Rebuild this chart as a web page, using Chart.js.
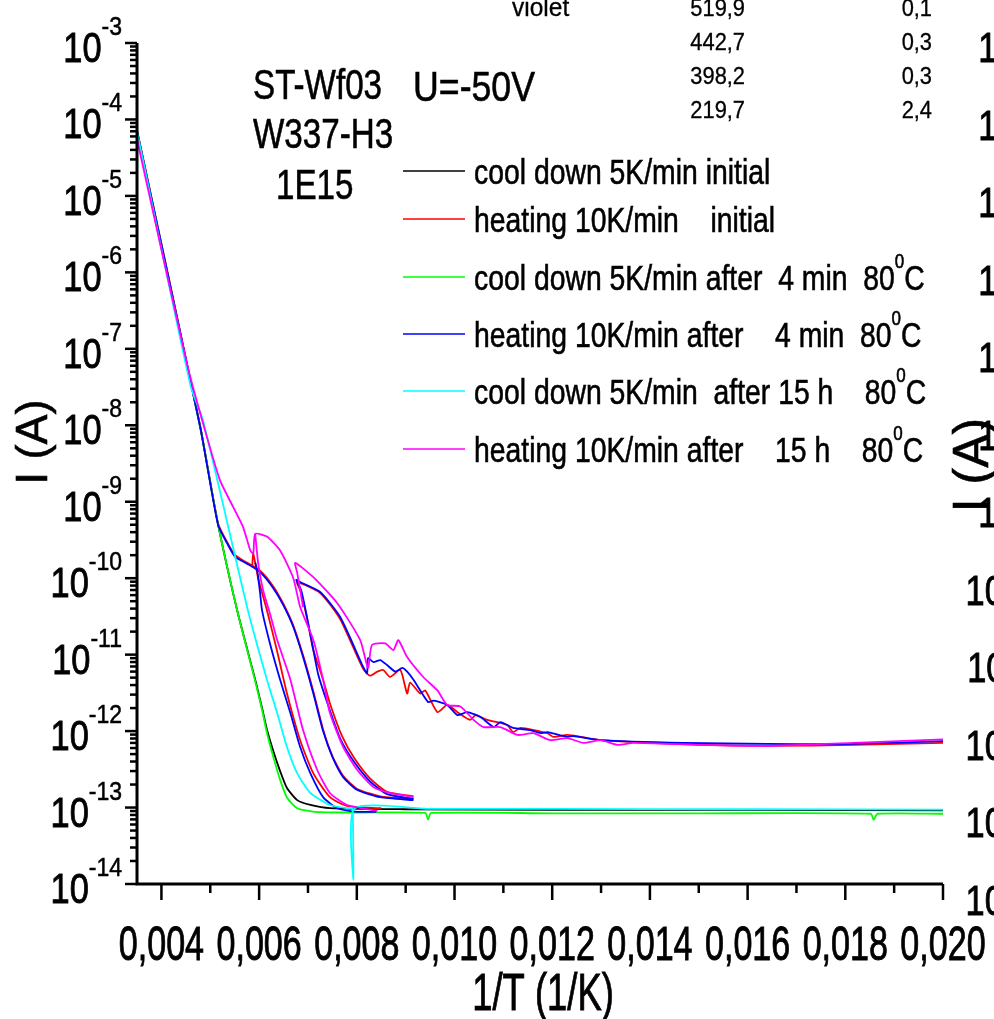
<!DOCTYPE html>
<html lang="en">
<head>
<meta charset="UTF-8">
<title>I vs 1/T</title>
<script src="https://cdn.jsdelivr.net/npm/chart.js"></script>
<style>
  html, body { margin: 0; padding: 0; background: #fff; }
  #plot { display: block; }
</style>
</head>
<body>
<canvas id="plot" width="994" height="1019"></canvas>
<script>
// 1/T in 1/K, current in A. A null entry breaks the line between two sweeps.

const coolInitialX = [0.00350, 0.00479, 0.00514, 0.00555, 0.00592, 0.00606, 0.00616, 0.00629, 0.00643, 0.00657, 0.00678, 0.00705, 0.00745, 0.0090, 0.0120, 0.0160, 0.0200];
const coolInitialI = [7.0e-5, 9.8e-9, 5.8e-10, 3.8e-11, 4.7e-12, 2.0e-12, 1.05e-12, 5.5e-13, 3.0e-13, 1.8e-13, 1.25e-13, 1.08e-13, 9.8e-14, 9.5e-14, 9.3e-14, 9.3e-14, 9.2e-14];

const heatInitialX = [
  0.00350, 0.00479, 0.00516, 0.00534, 0.00551, 0.00575, 0.00602, 0.00629, 0.00649, 0.00670, 0.00690, 0.00711, 0.00731, 0.00750, 0.00772, 0.00801, 0.00848, 0.00916,
  null,
  0.00586, 0.00588, 0.00598, 0.00616, 0.00637, 0.00657, 0.00684, 0.00711, 0.00745, 0.00780, 0.00850,
  null,
  0.00916, 0.00862, 0.00827, 0.00795, 0.00770, 0.00745, 0.00731, 0.00711, 0.00698, 0.00686, 0.00678, 0.00725, 0.00766, 0.00813, 0.00827, 0.00842, 0.00854, 0.00868, 0.00889, 0.00903, 0.00909, 0.00930, 0.00940, 0.00965, 0.00985, 0.01006, 0.01032, 0.01043, 0.01067, 0.01108, 0.01120, 0.01135, 0.01190, 0.01202, 0.01231, 0.01258, 0.01299, 0.01366, 0.01504, 0.01641, 0.01817, 0.0200
];
const heatInitialI = [
  7.3e-5, 1.0e-8, 5.2e-10, 3.0e-10, 2.0e-10, 1.6e-10, 1.25e-10, 7.8e-11, 4.7e-11, 2.4e-11, 9.8e-12, 3.3e-12, 1.05e-12, 4.7e-13, 2.6e-13, 1.75e-13, 1.4e-13, 1.3e-13,
  null,
  1.45e-10, 2.1e-10, 1.0e-10, 3.8e-11, 1.1e-11, 3.1e-12, 7.6e-13, 2.8e-13, 1.37e-13, 1.05e-13, 9.8e-14,
  null,
  1.4e-13, 1.6e-13, 2.4e-13, 4.4e-13, 8.5e-13, 2.3e-12, 4.7e-12, 1.15e-11, 3.0e-11, 6.5e-11, 8.8e-11, 6.4e-11, 2.9e-11, 6.5e-12, 5.3e-12, 6.0e-12, 6.3e-12, 5.1e-12, 6.3e-12, 3.1e-12, 4.3e-12, 3.1e-12, 3.4e-12, 1.77e-12, 2.2e-12, 1.77e-12, 1.40e-12, 1.62e-12, 1.40e-12, 1.2e-12, 9.7e-13, 1.1e-12, 9.4e-13, 8.4e-13, 8.9e-13, 8.4e-13, 7.6e-13, 7.2e-13, 6.6e-13, 6.4e-13, 6.6e-13, 7.0e-13
];

const cool4minX = [0.00350, 0.00479, 0.00514, 0.00555, 0.00592, 0.00606, 0.00616, 0.00629, 0.00643, 0.00657, 0.00678, 0.00713, 0.0080, 0.00940, 0.00946, 0.00952, 0.0120, 0.0150, 0.01852, 0.01858, 0.01866, 0.0200];
const cool4minI = [7.0e-5, 9.8e-9, 5.8e-10, 3.8e-11, 4.5e-12, 1.9e-12, 9.5e-13, 4.6e-13, 2.3e-13, 1.35e-13, 9.8e-14, 8.8e-14, 8.6e-14, 8.5e-14, 7.0e-14, 8.5e-14, 8.4e-14, 8.4e-14, 8.3e-14, 6.9e-14, 8.3e-14, 8.3e-14];

const heat4minX = [
  0.00350, 0.00479, 0.00516, 0.00534, 0.00551, 0.00575, 0.00602, 0.00629, 0.00649, 0.00670, 0.00690, 0.00711, 0.00731, 0.00750, 0.00772, 0.00801, 0.00848, 0.00916,
  null,
  0.00592, 0.00596, 0.00602, 0.00606, 0.00623, 0.00643, 0.00664, 0.00684, 0.00705, 0.00731, 0.00760, 0.00801, 0.00840,
  null,
  0.00916, 0.00862, 0.00827, 0.00795, 0.00766, 0.00739, 0.00721, 0.00711, 0.00698, 0.00686, 0.00676, 0.00684, 0.00725, 0.00766, 0.00813, 0.00821, 0.00823, 0.00834, 0.00848, 0.00862, 0.00879, 0.00893, 0.00903, 0.00916, 0.00946, 0.00957, 0.00985, 0.01006, 0.01026, 0.01053, 0.01080, 0.01094, 0.01120, 0.01155, 0.01176, 0.01190, 0.01231, 0.01243, 0.01299, 0.01469, 0.01641, 0.01817, 0.0200
];
const heat4minI = [
  7.1e-5, 9.8e-9, 4.95e-10, 2.9e-10, 1.9e-10, 1.55e-10, 1.2e-10, 7.4e-11, 4.5e-11, 2.3e-11, 9.3e-12, 3.1e-12, 1.0e-12, 4.6e-13, 2.5e-13, 1.7e-13, 1.37e-13, 1.25e-13,
  null,
  1.6e-10, 1.28e-10, 6.4e-11, 3.8e-11, 1.34e-11, 4.7e-12, 1.72e-12, 6.2e-13, 2.8e-13, 1.37e-13, 9.8e-14, 8.8e-14, 8.8e-14,
  null,
  1.3e-13, 1.5e-13, 2.2e-13, 3.9e-13, 8.0e-13, 2.4e-12, 5.5e-12, 1.15e-11, 3.1e-11, 7.0e-11, 9.5e-11, 8.9e-11, 6.6e-11, 3.1e-11, 6.9e-12, 5.7e-12, 9.0e-12, 8.0e-12, 8.5e-12, 7.3e-12, 6.0e-12, 6.7e-12, 6.0e-12, 4.7e-12, 2.4e-12, 2.5e-12, 2.2e-12, 1.62e-12, 1.77e-12, 1.53e-12, 1.13e-12, 1.31e-12, 1.1e-12, 1.03e-12, 9.4e-13, 9.7e-13, 8.4e-13, 8.6e-13, 7.6e-13, 7.0e-13, 6.8e-13, 6.8e-13, 7.4e-13
];

const cool15hX = [0.00350, 0.00460, 0.00485, 0.00577, 0.00616, 0.00637, 0.00657, 0.00678, 0.00705, 0.00745, 0.00780, 0.00791, 0.00793, 0.00795, 0.0095, 0.0120, 0.0160, 0.0200];
const cool15hI = [6.9e-5, 3.2e-8, 1.17e-8, 3.8e-11, 4.7e-12, 1.72e-12, 6.2e-13, 2.8e-13, 1.55e-13, 1.08e-13, 9.8e-14, 9.7e-14, 1.13e-14, 9.7e-14, 9.6e-14, 9.6e-14, 9.5e-14, 9.4e-14];

const heat15hX = [
  0.00350, 0.00453, 0.00489, 0.00520, 0.00547, 0.00567, 0.00582, 0.00588, 0.00592, 0.00616, 0.00643, 0.00670, 0.00684, 0.00711, 0.00731, 0.00745, 0.00772, 0.00801, 0.00834, 0.00868, 0.00916,
  null,
  0.00592, 0.00598, 0.00608, 0.00623, 0.00637, 0.00664, 0.00690, 0.00719, 0.00745, 0.00780, 0.00842,
  null,
  0.00690, 0.00678, 0.00674, 0.00711, 0.00760, 0.00807, 0.00823, 0.00831, 0.00858, 0.00875, 0.00885, 0.00903, 0.00936, 0.00965, 0.00985, 0.01012, 0.01039, 0.01059, 0.01094, 0.01129, 0.01161, 0.01196, 0.01231, 0.01264, 0.01299, 0.01334, 0.01366, 0.01504, 0.01641, 0.01817, 0.0200
];
const heat15hI = [
  5.5e-5, 6.1e-8, 8.7e-9, 1.9e-9, 8.5e-10, 4.7e-10, 2.3e-10, 2.1e-10, 3.8e-10, 3.5e-10, 2.3e-10, 1.0e-10, 4.2e-11, 1.55e-11, 4.7e-12, 1.72e-12, 6.2e-13, 3.1e-13, 1.85e-13, 1.55e-13, 1.37e-13,
  null,
  3.8e-10, 1.58e-10, 7.0e-11, 3.3e-11, 1.55e-11, 4.7e-12, 1.03e-12, 3.1e-13, 1.55e-13, 1.08e-13, 9.0e-14,
  null,
  4.2e-11, 1.17e-10, 1.58e-10, 1.03e-10, 4.7e-11, 1.55e-11, 6.7e-12, 1.34e-11, 1.4e-11, 1.15e-11, 1.55e-11, 9.3e-12, 5.1e-12, 3.4e-12, 2.2e-12, 2.1e-12, 1.40e-12, 1.13e-12, 1.13e-12, 8.9e-13, 9.4e-13, 7.6e-13, 8.1e-13, 7.0e-13, 7.6e-13, 6.6e-13, 7.0e-13, 6.6e-13, 6.4e-13, 7.0e-13, 7.8e-13
];

// legend text; ^...^ marks a superscript
const seriesLabels = [
  'cool down 5K/min initial',
  'heating 10K/min    initial',
  'cool down 5K/min after  4 min  80^0^C',
  'heating 10K/min after    4 min  80^0^C',
  'cool down 5K/min  after 15 h    80^0^C',
  'heating 10K/min after    15 h    80^0^C'
];

const sampleLines = ['ST-Wf03', 'W337-H3', '1E15'];
const biasLabel = 'U=-50V';
const tableNames = ['violet', '', '', ''];
const tableWavelengths = ['519,9', '442,7', '398,2', '219,7'];
const tablePowers = ['0,1', '0,3', '0,3', '2,4'];

const xMajorTicks = [0.004, 0.006, 0.008, 0.010, 0.012, 0.014, 0.016, 0.018, 0.020];
const xMinorTicks = [0.005, 0.007, 0.009, 0.011, 0.013, 0.015, 0.017, 0.019];
const yDecades = [-14, -13, -12, -11, -10, -9, -8, -7, -6, -5, -4, -3];

function toPoints(xs, vals) {
  return xs.map((x, k) => ({ x: x === null ? xs[k - 1] : x, y: vals[k] }));
}

const FONT = '"Liberation Sans", Arial, sans-serif';

// squeezed text, slightly emboldened with a thin outline
function drawText(ctx, str, x, y, size, align, squeeze, bold) {
  ctx.save();
  ctx.font = size + 'px ' + FONT;
  ctx.textAlign = 'left';
  ctx.textBaseline = 'alphabetic';
  const w = ctx.measureText(str).width * squeeze;
  const x0 = align === 'center' ? x - w / 2 : align === 'right' ? x - w : x;
  ctx.translate(x0, y);
  ctx.scale(squeeze, 1);
  ctx.fillText(str, 0, 0);
  if (bold) {
    ctx.lineWidth = bold;
    ctx.strokeStyle = ctx.fillStyle;
    ctx.strokeText(str, 0, 0);
  }
  ctx.restore();
  return w;
}

// text with ^superscript^ parts, left aligned
function drawRich(ctx, str, x, y, size, supSize, rise, squeeze, bold) {
  const parts = str.split('^');
  let cx = x;
  parts.forEach((p, k) => {
    if (!p) return;
    if (k % 2 === 1) cx += drawText(ctx, p, cx, y - rise, supSize, 'left', squeeze, bold);
    else cx += drawText(ctx, p, cx, y, size, 'left', squeeze, bold);
  });
}

function drawDecadeLabel(ctx, n, xRight, py) {
  const supW = drawText(ctx, String(n), xRight, py - 8, 25, 'right', 0.92, 0.5);
  drawText(ctx, '10', xRight - supW, py + 19, 43, 'right', 0.8, 0.9);
}

function tick(ctx, x1, y1, x2, y2) {
  ctx.beginPath();
  ctx.moveTo(x1, y1);
  ctx.lineTo(x2, y2);
  ctx.stroke();
}

const framePlugin = {
  id: 'frame',
  afterDraw(chart) {
    const { ctx, chartArea: a } = chart;
    const xs = chart.scales.x, ys = chart.scales.y;
    ctx.save();
    ctx.fillStyle = '#000';
    ctx.strokeStyle = '#000';
    ctx.lineCap = 'butt';

    // axis lines
    ctx.lineWidth = 3;
    ctx.beginPath();
    ctx.moveTo(a.left, a.top);
    ctx.lineTo(a.left, a.bottom);
    ctx.lineTo(a.right, a.bottom);
    ctx.stroke();

    // y ticks, outward, with 2..9 minor ticks
    yDecades.forEach(n => {
      const py = ys.getPixelForValue(Math.pow(10, n));
      ctx.lineWidth = 2.5;
      ctx.strokeStyle = '#000';
      tick(ctx, a.left - 12, py, a.left, py);
      if (n < -3) {
        for (let m = 2; m <= 9; m++) {
          const pm = ys.getPixelForValue(m * Math.pow(10, n));
          tick(ctx, a.left - 7, pm, a.left, pm);
        }
      }
      drawDecadeLabel(ctx, n, 122, py);
      // tick labels of the neighbouring panel, cut by the right edge
      drawDecadeLabel(ctx, n, 122 + 915, a.top + (py - a.top) * 1.014);
    });

    // x ticks
    ctx.lineWidth = 2.5;
    xMajorTicks.forEach(v => {
      const px = xs.getPixelForValue(v);
      tick(ctx, px, a.bottom, px, a.bottom + 16);
      drawText(ctx, v.toFixed(3).replace('.', ','), px, 960, 48, 'center', 0.71, 0.9);
    });
    xMinorTicks.forEach(v => {
      const px = xs.getPixelForValue(v);
      tick(ctx, px, a.bottom, px, a.bottom + 9);
    });

    // axis titles
    drawText(ctx, '1/T (1/K)', 543, 1010, 52, 'center', 0.7, 0.9);
    [[47, 442, 45], [988, 465, 50]].forEach(([bx, cy, size]) => {
      ctx.save();
      ctx.translate(bx, cy);
      ctx.rotate(-Math.PI / 2);
      drawText(ctx, 'I (A)', 0, 0, size, 'center', 1, 0.6);
      ctx.restore();
    });

    // sample notes
    drawText(ctx, sampleLines[0], 253, 99, 42, 'left', 0.79, 0.6);
    drawText(ctx, sampleLines[1], 253, 148, 42, 'left', 0.79, 0.6);
    drawText(ctx, sampleLines[2], 276, 199, 42, 'left', 0.79, 0.6);
    drawText(ctx, biasLabel, 413, 101, 42, 'left', 0.85, 0.6);

    // illumination table at the top
    for (let k = 0; k < tableWavelengths.length; k++) {
      const by = 16 + k * 34;
      if (tableNames[k]) drawText(ctx, tableNames[k], 512, by, 25, 'left', 0.98, 0.3);
      drawText(ctx, tableWavelengths[k], 745, by, 23, 'right', 0.95, 0.3);
      drawText(ctx, tablePowers[k], 932, by, 23, 'right', 0.95, 0.3);
    }

    // legend
    const rowY = [171, 219, 277, 334, 391, 449];
    chart.data.datasets.forEach((ds, k) => {
      ctx.strokeStyle = ds.borderColor;
      ctx.lineWidth = 1.6;
      tick(ctx, 403, rowY[k], 465, rowY[k]);
      ctx.fillStyle = '#000';
      drawRich(ctx, seriesLabels[k], 474, rowY[k] + 13, 35, 21, 22, 0.81, 0.6);
    });
    ctx.restore();
  }
};

const series = [
  [coolInitialX, coolInitialI, '#000000'],
  [heatInitialX, heatInitialI, '#ff0000'],
  [cool4minX, cool4minI, '#00ff00'],
  [heat4minX, heat4minI, '#0000ff'],
  [cool15hX, cool15hI, '#00ffff'],
  [heat15hX, heat15hI, '#ff00ff']
];

new Chart(document.getElementById('plot'), {
  type: 'line',
  data: {
    datasets: series.map(([xs, vals, color], k) => ({
      label: seriesLabels[k].replace(/\^/g, ''),
      data: toPoints(xs, vals),
      borderColor: color,
      backgroundColor: color,
      borderWidth: 1.8,
      pointRadius: 0,
      tension: 0.2,
      spanGaps: false,
      order: series.length - k
    }))
  },
  options: {
    responsive: false,
    animation: false,
    devicePixelRatio: 1,
    layout: { padding: { left: 137, right: 51, top: 43, bottom: 135 } },
    plugins: { legend: { display: false }, tooltip: { enabled: false } },
    scales: {
      x: { type: 'linear', min: 0.0035, max: 0.020, display: false },
      y: { type: 'logarithmic', min: 1e-14, max: 1e-3, display: false }
    }
  },
  plugins: [framePlugin]
});
</script>
</body>
</html>
